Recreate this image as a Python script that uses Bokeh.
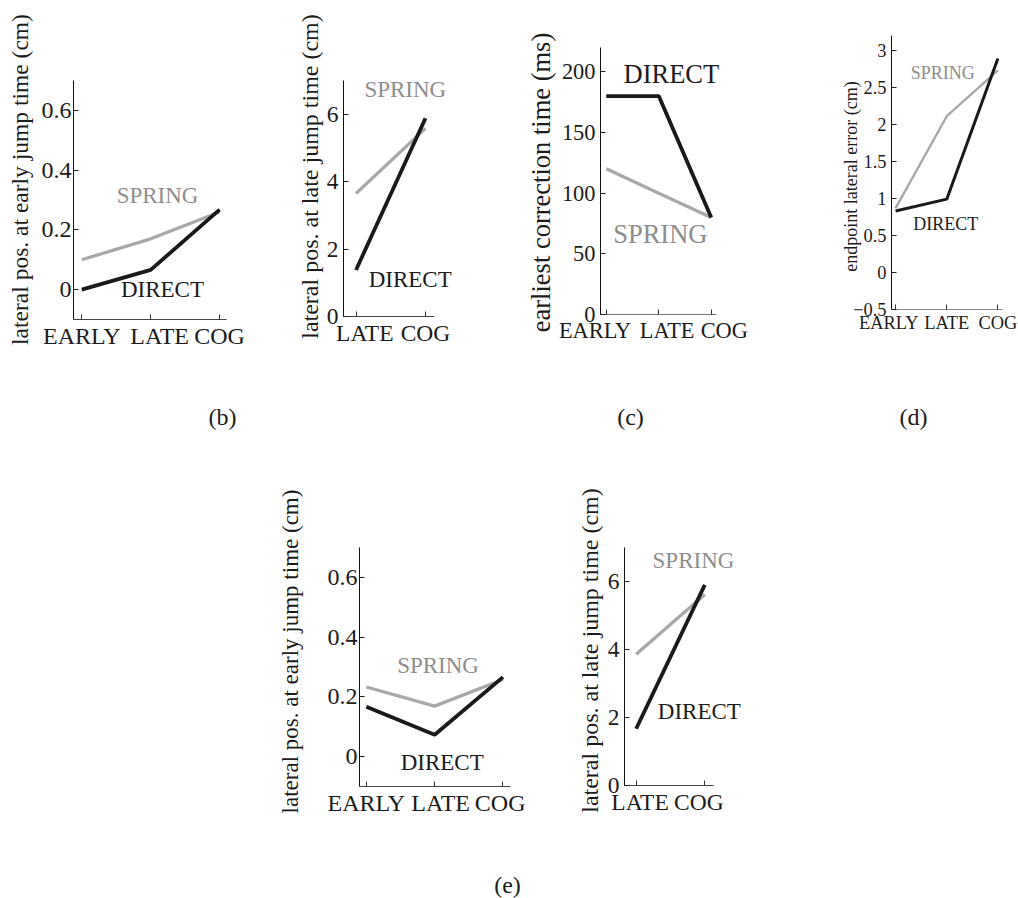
import math
from bokeh.plotting import figure
from bokeh.models import Range1d, FixedTicker, Label, Spacer, LinearAxis
from bokeh.layouts import row, column
from bokeh.embed import file_html
from bokeh.resources import INLINE

# ---------------- data ----------------
cats_three = ["EARLY", "LATE", "COG"]
cats_two = ["LATE", "COG"]

b_early_spring = [0.10, 0.17, 0.26]
b_early_direct = [0.0, 0.066, 0.268]
b_late_spring = [3.65, 5.58]
b_late_direct = [1.38, 5.88]
c_spring = [120, 100, 80]
c_direct = [180, 180, 80]
d_spring = [0.87, 2.11, 2.73]
d_direct = [0.83, 0.99, 2.89]
e_early_spring = [0.233, 0.169, 0.258]
e_early_direct = [0.167, 0.073, 0.266]
e_late_spring = [3.86, 5.62]
e_late_direct = [1.67, 5.90]

early_ticks = [0, 0.2, 0.4, 0.6]
early_tick_labels = ["0", "0.2", "0.4", "0.6"]
late_ticks = [0, 2, 4, 6]
late_tick_labels = ["0", "2", "4", "6"]
corr_ticks = [0, 50, 100, 150, 200]
corr_tick_labels = ["0", "50", "100", "150", "200"]
err_ticks = [-0.5, 0, 0.5, 1, 1.5, 2, 2.5, 3]
err_tick_labels = ["\u22120.5", "0", "0.5", "1", "1.5", "2", "2.5", "3"]

# ---------------- styles ----------------
FONT = "Liberation Serif"
SPRING_LINE = "#a9a9a9"
SPRING_TEXT = "#8e8e8e"
DIRECT_LINE = "#1a1a1a"
DIRECT_TEXT = "#1c1c1c"
INK = "#1c1c1c"
EM, EN, THIRD, QUARTER, SIXTH = "\u2003", "\u2002", "\u2004", "\u2005", "\u2006"


def panel(canvas, box, xr, yr, cats, spring, direct, yticks, ylabels,
          title, title_px, title_size, tick_size, ann_size,
          spring_at, direct_at, pads, ystand, xaxis_color, lw=3.8, slw=3.3,
          caption=None):
    cx0, cy0, cx1, cy1 = canvas
    bx0, by0, bx1, by1 = box
    kx = (xr[1] - xr[0]) / (bx1 - bx0)
    ky = (yr[1] - yr[0]) / (by1 - by0)
    x_range = Range1d(xr[0] - (bx0 - cx0) * kx, xr[1] + (cx1 - bx1) * kx)
    y_range = Range1d(yr[0] - (cy1 - by1) * ky, yr[1] + (by0 - cy0) * ky)
    p = figure(width=cx1 - cx0, height=cy1 - cy0,
               x_range=x_range, y_range=y_range,
               x_axis_location=None, y_axis_location=None,
               min_border=0, min_border_left=0, min_border_right=0,
               min_border_top=0, min_border_bottom=0,
               toolbar_location=None, output_backend="svg", tools="",
               title=None)
    p.outline_line_color = None
    p.grid.visible = False
    p.background_fill_color = "white"
    p.border_fill_color = "white"

    def to_data(px, py):
        return xr[0] + (px - bx0) * kx, yr[1] - (py - by0) * ky

    xs = list(range(1, len(cats) + 1))
    p.line(xs, spring, line_color=SPRING_LINE, line_width=slw)
    p.line(xs, direct, line_color=DIRECT_LINE, line_width=lw)

    xa = LinearAxis(fixed_location=yr[0], bounds=(xr[0], xr[1]),
                    ticker=FixedTicker(ticks=xs))
    xa.major_label_overrides = {x: pads[i][0] + c + pads[i][1]
                                for i, (x, c) in enumerate(zip(xs, cats))}
    xa.minor_tick_line_color = None
    xa.major_tick_in = 5
    xa.major_tick_out = 0
    xa.axis_line_color = xaxis_color
    xa.major_tick_line_color = "#333333"
    xa.major_label_text_font = FONT
    xa.major_label_text_font_size = f"{tick_size}px"
    xa.major_label_text_color = INK
    xa.major_label_standoff = 3
    p.add_layout(xa, "below")

    ya = LinearAxis(fixed_location=xr[0], bounds=(yr[0], yr[1]),
                    ticker=FixedTicker(ticks=yticks))
    ya.major_label_overrides = {t: l for t, l in zip(yticks, ylabels)}
    ya.minor_tick_line_color = None
    ya.major_tick_in = 5
    ya.major_tick_out = 0
    ya.axis_line_color = "#111111"
    ya.major_tick_line_color = "#222222"
    ya.major_label_text_font = FONT
    ya.major_label_text_font_size = f"{tick_size}px"
    ya.major_label_text_color = INK
    ya.major_label_standoff = ystand
    p.add_layout(ya, "left")

    tx, ty = to_data(*title_px)
    p.add_layout(Label(x=tx, y=ty, text=title, angle=math.pi / 2,
                       text_align="center", text_baseline="middle",
                       text_font=FONT, text_font_size=f"{title_size}px",
                       text_color=INK))
    p.add_layout(Label(x=spring_at[0], y=spring_at[1], text="SPRING",
                       text_align="center", text_baseline="middle",
                       text_font=FONT, text_font_size=f"{ann_size}px",
                       text_color=SPRING_TEXT))
    p.add_layout(Label(x=direct_at[0], y=direct_at[1], text="DIRECT",
                       text_align="center", text_baseline="middle",
                       text_font=FONT, text_font_size=f"{ann_size}px",
                       text_color=DIRECT_TEXT))
    if caption is not None:
        ctext, cpx = caption
        qx, qy = to_data(*cpx)
        p.add_layout(Label(x=qx, y=qy, text=ctext,
                           text_align="center", text_baseline="middle",
                           text_font=FONT, text_font_size="24px",
                           text_color=INK))
    return p


p1 = panel((0, 0, 258, 440), (73, 80, 226, 319), (0.88, 3.1), (-0.1, 0.7),
           cats_three, b_early_spring, b_early_direct,
           early_ticks, early_tick_labels,
           "lateral pos. at early jump time (cm)", (19, 179), 23.5, 24, 23,
           (2.10, 0.316), (2.17, 0.0),
           [("", ""), (EN + QUARTER, ""), ("", "")], 2, "#444444",
           caption=("(b)", (222, 416)))

p2 = panel((258, 0, 475, 440), (343, 80, 434, 316), (0.82, 2.13), (0, 7),
           cats_two, b_late_spring, b_late_direct,
           late_ticks, late_tick_labels,
           "lateral pos. at late jump time (cm)", (309, 176), 24, 23.5, 23,
           (1.71, 6.72), (1.78, 1.09),
           [(EN + QUARTER, ""), ("", "")], 5, "#444444")

p3 = panel((475, 0, 770, 440), (600, 47, 716, 314), (0.89, 3.1), (0, 220),
           cats_three, c_spring, c_direct,
           corr_ticks, corr_tick_labels,
           "earliest correction time (ms)", (540, 182), 26.5, 22.4, 26.5,
           (2.03, 66), (2.24, 198),
           [("", EM), (EN + QUARTER, ""), (EM + SIXTH, "")], 5, "#777777",
           caption=("(c)", (630, 416)))

p4 = panel((770, 0, 1018, 440), (891, 35, 1002, 309), (0.92, 3.09), (-0.5, 3.2),
           cats_three, d_spring, d_direct,
           err_ticks, err_tick_labels,
           "endpoint lateral error (cm)", (850, 176), 18, 18.4, 18,
           (1.92, 2.70), (1.98, 0.65),
           [("", EN + QUARTER), ("", ""), ("", "")], 5, "#888888",
           lw=3.0, slw=2.4,
           caption=("(d)", (913, 416)))

p5 = panel((240, 440, 525, 898), (359, 547, 510, 786), (0.90, 3.11), (-0.1, 0.7),
           cats_three, e_early_spring, e_early_direct,
           early_ticks, early_tick_labels,
           "lateral pos. at early jump time (cm)", (290, 651), 23, 24, 23,
           (2.05, 0.304), (2.11, -0.018),
           [("", ""), (EN, ""), ("", "")], 2, "#444444",
           caption=("(e)", (507, 884)))

p6 = panel((525, 440, 780, 898), (624, 547, 713, 785), (0.83, 2.127), (0, 7),
           cats_two, e_late_spring, e_late_direct,
           late_ticks, late_tick_labels,
           "lateral pos. at late jump time (cm)", (589, 650), 24, 23.5, 23,
           (1.835, 6.61), (1.92, 2.17),
           [(THIRD, ""), ("", EN)], 5, "#444444")

layout = column(row(p1, p2, p3, p4),
                row(Spacer(width=240, height=458), p5, p6))

open("out.html", "w").write(file_html(layout, INLINE))
